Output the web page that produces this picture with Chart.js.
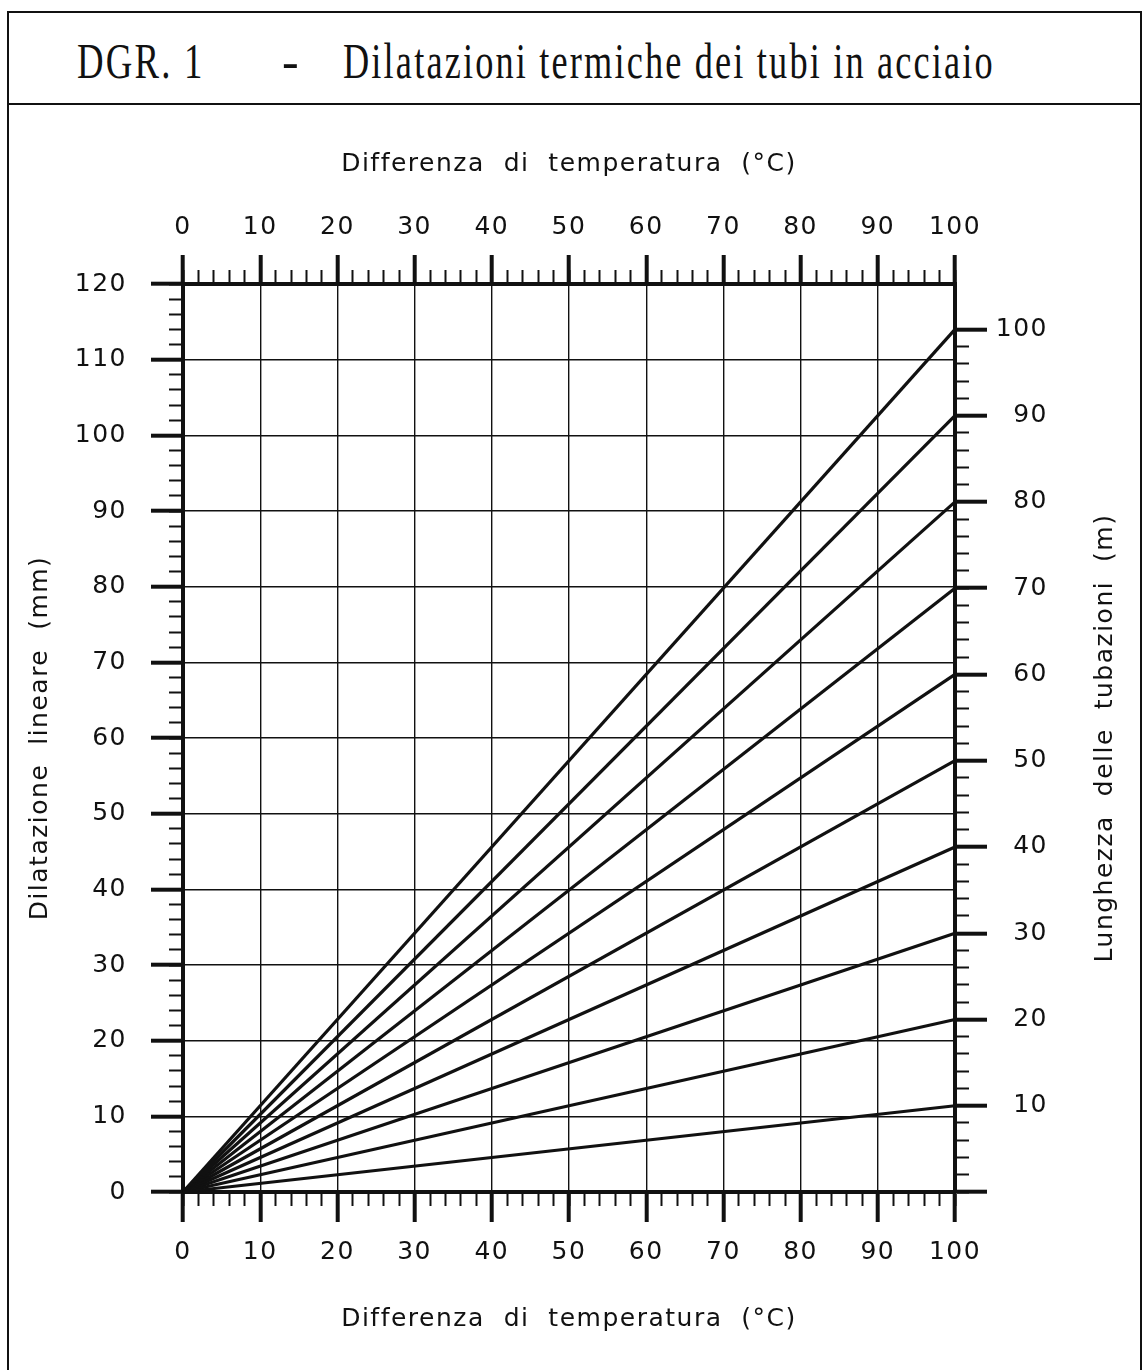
<!DOCTYPE html>
<html>
<head>
<meta charset="utf-8">
<script src="https://cdn.jsdelivr.net/npm/chart.js@4.4.1/dist/chart.umd.min.js"></script>
<style>
  html, body { margin: 0; padding: 0; background: #fff; }
  body { width: 1144px; height: 1370px; position: relative; overflow: hidden; }
  #frame { position: absolute; left: 7px; top: 11px; width: 1131px; height: 1400px; border: 2px solid #111; }
  #titleBar { position: absolute; left: 7px; top: 103px; width: 1135px; border-top: 2px solid #111; }
  .tt { position: absolute; top: 36px; font-family: "Liberation Serif", serif; font-size: 50px; line-height: 50px;
        letter-spacing: 3px; color: #111; white-space: nowrap; transform-origin: 0 0; }
  #chartBox { position: absolute; left: 0; top: 0; width: 1144px; height: 1370px; }
</style>
</head>
<body>
<div id="frame"></div>
<div id="titleBar"></div>
<span class="tt" data-x="77" data-w="128">DGR. 1</span>
<span class="tt" data-x="282">-</span>
<span class="tt" data-x="343" data-w="652">Dilatazioni termiche dei tubi in acciaio</span>
<div id="chartBox"><canvas id="canvas"></canvas></div>

<script>
// Values
const lengths = [10, 20, 30, 40, 50, 60, 70, 80, 90, 100]; // pipe length (m), right axis
const tempRange = [0, 100]; // temperature difference (°C)
const expansionAt100 = [11.4, 22.8, 34.2, 45.6, 57.0, 68.4, 79.8, 91.2, 102.6, 114.0]; // mm at 100 °C
const lengthAxisMax = 105.26; // m, where the 120 mm line falls on the right axis

const xTitle = "Differenza  di  temperatura  (°C)";
const yTitle = "Dilatazione  lineare  (mm)";
const rightTitle = "Lunghezza  delle  tubazioni  (m)";

const ink = "#111";
const sansFont = { family: "DejaVu Sans", size: 25 };

// squeeze the serif heading into the width it has in the picture
document.querySelectorAll(".tt").forEach((el) => {
  el.style.left = el.dataset.x + "px";
  if (!el.dataset.w) return;
  const k = Number(el.dataset.w) / el.offsetWidth;
  el.style.transform = "scaleX(" + k + ")";
});

// fix the size of an axis box so the plot sits where the original one does
function fixWidth(w) {
  return (scale) => { scale.width = w; };
}
function fixHeight(h) {
  return (scale) => { scale.height = h; };
}

// major scale: thick ticks + labels; minor scale: short ticks every 2 units
function majorGrid(onChart, len) {
  return { display: true, drawOnChartArea: onChart, color: ink, lineWidth: 1.4,
           tickLength: len, tickWidth: 4, tickColor: ink };
}
function minorScale(position, min, max) {
  return {
    type: "linear", position: position, min: min, max: max, weight: 0,
    ticks: { stepSize: 2, display: false, includeBounds: false },
    grid: { drawOnChartArea: false, tickLength: 14, tickWidth: 2, tickColor: ink },
    border: { display: false },
    afterFit: position === "top" || position === "bottom" ? fixHeight(0) : fixWidth(0),
  };
}

const datasets = lengths.map((len, i) => ({
  label: len + " m",
  data: [
    { x: tempRange[0], y: 0 },
    { x: tempRange[1], y: expansionAt100[i] },
  ],
  borderColor: ink,
  borderWidth: 3.2,
  pointRadius: 0,
  clip: false,
  xAxisID: "x",
  yAxisID: "y",
}));

// letter spacing for the canvas texts + right axis title written bottom-to-top
const spacedText = {
  id: "spacedText",
  beforeDraw(chart) {
    chart.ctx.letterSpacing = "1.5px";
  },
  afterDraw(chart) {
    const ctx = chart.ctx;
    const area = chart.chartArea;
    ctx.save();
    ctx.letterSpacing = "1.5px";
    ctx.translate(1105, (area.top + area.bottom) / 2);
    ctx.rotate(-Math.PI / 2);
    ctx.font = sansFont.size + 'px "' + sansFont.family + '"';
    ctx.fillStyle = ink;
    ctx.textAlign = "center";
    ctx.textBaseline = "middle";
    ctx.fillText(rightTitle, 0, 0);
    ctx.restore();
  },
};

const ctx = document.getElementById("canvas").getContext("2d");
new Chart(ctx, {
  type: "line",
  data: { datasets: datasets },
  options: {
    responsive: true,
    maintainAspectRatio: false,
    animation: false,
    layout: { padding: { left: 0, top: 0, right: 96, bottom: 0 } },
    plugins: { legend: { display: false }, tooltip: { enabled: false } },
    scales: {
      x: {
        type: "linear", position: "bottom", min: tempRange[0], max: tempRange[1], weight: 1,
        ticks: { stepSize: 10, color: ink, font: sansFont, padding: 15, maxRotation: 0, autoSkip: false },
        grid: majorGrid(true, 30),
        border: { display: true, color: ink, width: 4 },
        title: { display: true, text: xTitle, color: ink, font: sansFont, padding: { top: 0, bottom: 36 } },
        afterFit: fixHeight(178),
      },
      xMinor: minorScale("bottom", tempRange[0], tempRange[1]),
      xTop: {
        type: "linear", position: "top", min: tempRange[0], max: tempRange[1], weight: 1,
        ticks: { stepSize: 10, color: ink, font: sansFont, padding: 13, maxRotation: 0, autoSkip: false },
        grid: majorGrid(false, 29),
        border: { display: true, color: ink, width: 4 },
        title: { display: true, text: xTitle, color: ink, font: sansFont, padding: { top: 149, bottom: 0 } },
        afterFit: fixHeight(284),
      },
      xTopMinor: minorScale("top", tempRange[0], tempRange[1]),
      y: {
        type: "linear", position: "left", min: 0, max: 120, weight: 1,
        ticks: { stepSize: 10, color: ink, font: sansFont, padding: 24 },
        grid: majorGrid(true, 32),
        border: { display: true, color: ink, width: 4 },
        title: { display: true, text: yTitle, color: ink, font: sansFont, padding: { top: 25, bottom: 0 } },
        afterFit: fixWidth(183),
      },
      yMinor: minorScale("left", 0, 120),
      yR: {
        type: "linear", position: "right", min: 0, max: lengthAxisMax, weight: 1,
        ticks: {
          stepSize: 10, includeBounds: false, color: ink, font: sansFont, padding: 10, crossAlign: "far",
          callback: (v) => (v === 0 ? "" : String(v)),
        },
        grid: majorGrid(false, 32),
        border: { display: true, color: ink, width: 4 },
        afterFit: fixWidth(93),
      },
      yRMinor: Object.assign(minorScale("right", 0, lengthAxisMax), {
        afterBuildTicks: (scale) => {
          scale.ticks = scale.ticks.filter((t) => t.value <= lengths[lengths.length - 1]);
        },
      }),
    },
  },
  plugins: [spacedText],
});
</script>
</body>
</html>
